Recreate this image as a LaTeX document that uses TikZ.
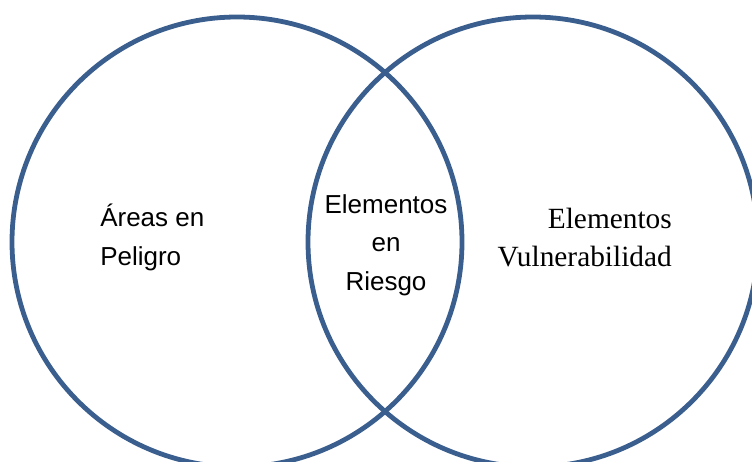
\documentclass[tikz,border=0pt]{standalone}
\usepackage{fontspec}
\setmainfont{Liberation Serif}
\setsansfont{Liberation Sans}
\usetikzlibrary{positioning}
\definecolor{borde}{HTML}{3A5F8F}

\begin{document}
\begin{tikzpicture}[x=0.75pt, y=0.75pt, every node/.style={inner sep=0pt},
    conjunto/.style={circle, draw=borde, line width=3.6pt, minimum size=337.5pt},
    rotulo/.style={font=\sffamily\fontsize{19.5}{28.8}\selectfont}]
	\useasboundingbox (0,0) rectangle (752,461);
	\node[conjunto] (peligro) at (237,219) {};
	\node[conjunto] (vulner) at (533,219) {};
	
	% textos de cada conjunto
	\node[rotulo, anchor=base west, align=left] (areas) at (100,196) {Áreas en\\Peligro};
	\node[rotulo, anchor=base, align=center] (riesgo) at (386,171) {Elementos\\en\\Riesgo};
	\node[anchor=base east, align=right, font=\fontsize{22}{28.5}\selectfont] (elem) at (672,195) {Elementos\\Vulnerabilidad};
\end{tikzpicture}
\end{document}
